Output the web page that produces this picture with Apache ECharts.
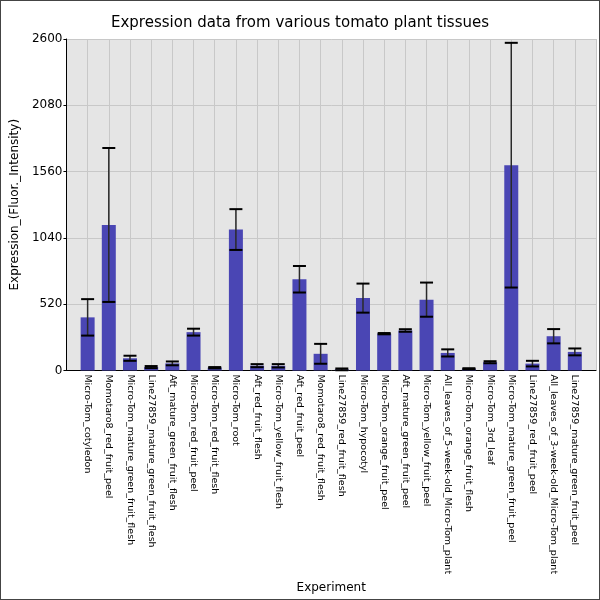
<!DOCTYPE html>
<html>
<head>
<meta charset="utf-8">
<script src="https://cdn.jsdelivr.net/npm/echarts@6/dist/echarts.min.js"></script>
<style>
html,body{margin:0;padding:0;background:#fff;}
#c{width:598px;height:598px;border:1px solid #444;}
</style>
</head>
<body>
<div id="c"></div>
<script>
const categories = [
  "Micro-Tom_cotyledon",
  "Momotaro8_red_fruit_peel",
  "Micro-Tom_mature_green_fruit_flesh",
  "Line27859_mature_green_fruit_flesh",
  "Aft_mature_green_fruit_flesh",
  "Micro-Tom_red_fruit_peel",
  "Micro-Tom_red_fruit_flesh",
  "Micro-Tom_root",
  "Aft_red_fruit_flesh",
  "Micro-Tom_yellow_fruit_flesh",
  "Aft_red_fruit_peel",
  "Momotaro8_red_fruit_flesh",
  "Line27859_red_fruit_flesh",
  "Micro-Tom_hypocotyl",
  "Micro-Tom_orange_fruit_peel",
  "Aft_mature_green_fruit_peel",
  "Micro-Tom_yellow_fruit_peel",
  "All_leaves_of_5-week-old_Micro-Tom_plant",
  "Micro-Tom_orange_fruit_flesh",
  "Micro-Tom_3rd_leaf",
  "Micro-Tom_mature_green_fruit_peel",
  "Line27859_red_fruit_peel",
  "All_leaves_of_3-week-old_Micro-Tom_plant",
  "Line27859_mature_green_fruit_peel"
];
const means = [416, 1141, 95, 26, 55, 300, 21, 1105, 37, 36, 715, 130, 8, 567, 288, 313, 555, 137, 13, 64, 1610, 53, 268, 145];
const errors = [143, 604, 20, 8, 15, 27, 5, 160, 12, 13, 104, 78, 7, 114, 5, 10, 134, 28, 4, 8, 960, 22, 56, 27];
const yTicks = [0, 520, 1040, 1560, 2080, 2600];

const chart = echarts.init(document.getElementById('c'), null, {renderer: 'canvas'});
const barData = means.map((v, i) => [i, v]);
const errData = means.map((v, i) => [i, v - errors[i], v + errors[i]]);
const font = 'DejaVu Sans';

chart.setOption({
  animation: false,
  title: {
    text: 'Expression data from various tomato plant tissues',
    left: 'center', top: 10,
    textStyle: {fontFamily: font, fontSize: 15, fontWeight: 'normal', color: '#000'}
  },
  grid: {
    left: 65, right: 3, top: 38, bottom: 225,
    show: true, backgroundColor: '#e5e5e5', borderWidth: 0
  },
  xAxis: {
    type: 'value', min: -1, max: categories.length, interval: 1,
    name: 'Experiment', nameLocation: 'middle', nameGap: 205,
    nameTextStyle: {fontFamily: font, fontSize: 12, color: '#000'},
    axisLine: {show: true, onZero: false, lineStyle: {color: '#000', width: 1}},
    axisTick: {show: false},
    splitLine: {show: true, lineStyle: {color: '#c8c8c8', width: 1}},
    axisLabel: {
      rotate: -90, fontFamily: font, fontSize: 9.5, color: '#000', margin: 4,
      showMinLabel: false, showMaxLabel: false,
      formatter: v => categories[v] || ''
    }
  },
  yAxis: {
    type: 'value', min: yTicks[0], max: yTicks[yTicks.length - 1],
    interval: yTicks[1] - yTicks[0],
    name: 'Expression_(Fluor._Intensity)', nameLocation: 'middle', nameGap: 42,
    nameTextStyle: {fontFamily: font, fontSize: 12, color: '#000'},
    axisLine: {show: true, onZero: false, lineStyle: {color: '#000', width: 1}},
    axisTick: {show: true, length: 3, lineStyle: {color: '#000'}},
    splitLine: {show: true, lineStyle: {color: '#c8c8c8', width: 1}},
    axisLabel: {fontFamily: font, fontSize: 12, color: '#000', margin: 4, formatter: v => String(v)}
  },
  series: [
    {
      type: 'bar', data: barData, barWidth: 14,
      itemStyle: {color: '#4a46b4'}
    },
    {
      type: 'custom', data: errData, z: 5,
      renderItem: function (params, api) {
        const x = api.value(0);
        const lo = api.coord([x, api.value(1)]);
        const hi = api.coord([x, api.value(2)]);
        const w = 6.5;
        return {
          type: 'group',
          children: [
            {type: 'line', shape: {x1: lo[0], y1: lo[1], x2: hi[0], y2: hi[1]}, style: {stroke: '#2a2a2a', lineWidth: 1.5}},
            {type: 'line', shape: {x1: hi[0] - w, y1: hi[1], x2: hi[0] + w, y2: hi[1]}, style: {stroke: '#000', lineWidth: 2}},
            {type: 'line', shape: {x1: lo[0] - w, y1: lo[1], x2: lo[0] + w, y2: lo[1]}, style: {stroke: '#000', lineWidth: 2}}
          ]
        };
      }
    }
  ]
});
</script>
</body>
</html>
